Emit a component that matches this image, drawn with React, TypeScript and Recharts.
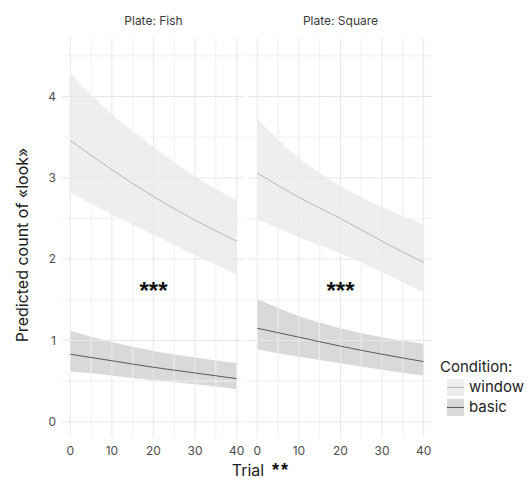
import React from 'react';
import { ComposedChart, Area, Line, XAxis, YAxis, ReferenceLine, ReferenceDot } from 'recharts';

// Trial values where the fitted curves were read
const trials = [0, 10, 20, 30, 40];

// Plate: Fish
const fishWindowFit = [3.46, 3.1, 2.77, 2.48, 2.22];
const fishWindowLow = [2.82, 2.55, 2.3, 2.05, 1.81];
const fishWindowHigh = [4.28, 3.78, 3.38, 3.02, 2.72];
const fishBasicFit = [0.83, 0.75, 0.67, 0.6, 0.53];
const fishBasicLow = [0.62, 0.57, 0.51, 0.46, 0.4];
const fishBasicHigh = [1.12, 0.98, 0.87, 0.79, 0.72];

// Plate: Square
const squareWindowFit = [3.06, 2.76, 2.5, 2.22, 1.96];
const squareWindowLow = [2.49, 2.27, 2.07, 1.84, 1.59];
const squareWindowHigh = [3.72, 3.24, 2.9, 2.64, 2.43];
const squareBasicFit = [1.15, 1.04, 0.93, 0.83, 0.74];
const squareBasicLow = [0.89, 0.8, 0.72, 0.64, 0.57];
const squareBasicHigh = [1.51, 1.3, 1.15, 1.04, 0.96];

const xTicks = [0, 10, 20, 30, 40];
const xMinor = [5, 15, 25, 35];
const yTicks = [0, 1, 2, 3, 4];
const yMinor = [0.5, 1.5, 2.5, 3.5, 4.5];
const starY = 1.61;

const FONT = 'Inter, "Noto Sans", sans-serif';
const STAR_FONT = '"Liberation Sans", sans-serif';

const buildRows = (wFit: number[], wLo: number[], wHi: number[], bFit: number[], bLo: number[], bHi: number[]) =>
  trials.map((t, i) => ({
    trial: t,
    window: wFit[i],
    windowBand: [wLo[i], wHi[i]],
    basic: bFit[i],
    basicBand: [bLo[i], bHi[i]],
  }));

const fishRows = buildRows(fishWindowFit, fishWindowLow, fishWindowHigh, fishBasicFit, fishBasicLow, fishBasicHigh);
const squareRows = buildRows(squareWindowFit, squareWindowLow, squareWindowHigh, squareBasicFit, squareBasicLow, squareBasicHigh);

const Panel = ({ rows, title, showY, left, width, margin }: any) => (
  <div style={{ position: 'absolute', left, top: 0 }}>
    <ComposedChart width={width} height={480} data={rows} margin={margin}>
      {xMinor.map((v) => (
        <ReferenceLine key={'xm' + v} x={v} stroke="#efefef" strokeWidth={1} />
      ))}
      {yMinor.map((v) => (
        <ReferenceLine key={'ym' + v} y={v} stroke="#f1f1f1" strokeWidth={1} />
      ))}
      {xTicks.map((v) => (
        <ReferenceLine key={'x' + v} x={v} stroke="#e8e8e8" strokeWidth={1} />
      ))}
      {yTicks.map((v) => (
        <ReferenceLine key={'y' + v} y={v} stroke="#e8e8e8" strokeWidth={1} />
      ))}
      <XAxis
        dataKey="trial"
        type="number"
        domain={[-2, 42]}
        ticks={xTicks}
        allowDataOverflow
        axisLine={false}
        tickLine={false}
        tickSize={0}
        tickMargin={8}
        height={30}
        tick={{ fontSize: 12, fill: '#4d4d4d', fontFamily: FONT }}
      />
      <YAxis
        type="number"
        domain={[-0.2, 4.72]}
        ticks={yTicks}
        allowDataOverflow
        hide={!showY}
        axisLine={false}
        tickLine={false}
        tickSize={0}
        tickMargin={6}
        width={20}
        tick={{ fontSize: 12, fill: '#4d4d4d', fontFamily: FONT }}
      />
      <Area type="monotone" dataKey="windowBand" stroke="none" fill="#d2d2d2" fillOpacity={0.38} isAnimationActive={false} />
      <Area type="monotone" dataKey="basicBand" stroke="none" fill="#b4b4b4" fillOpacity={0.5} isAnimationActive={false} />
      <Line type="monotone" dataKey="window" stroke="#b8b8b8" strokeWidth={1} dot={false} isAnimationActive={false} />
      <Line type="monotone" dataKey="basic" stroke="#5a5a5a" strokeWidth={1} dot={false} isAnimationActive={false} />
      <ReferenceDot
        x={20}
        y={starY}
        r={0}
        stroke="none"
        label={{ value: '***', position: 'center', fontSize: 24, fontWeight: 700, fill: '#111', fontFamily: STAR_FONT }}
      />
    </ComposedChart>
    <div
      style={{
        position: 'absolute',
        top: 13,
        left: margin.left + (showY ? 20 : 0),
        width: width - margin.left - margin.right - (showY ? 20 : 0),
        textAlign: 'center',
        fontSize: 12,
        color: '#3a3a3a',
        fontFamily: FONT,
      }}
    >
      {title}
    </div>
  </div>
);

export default function App() {
  return (
    <div style={{ position: 'absolute', left: 0, top: 0, width: 531, height: 480, background: '#fff', fontFamily: FONT }}>
      <Panel rows={fishRows} title="Plate: Fish" showY left={0} width={250} margin={{ top: 38, right: 5, bottom: 12, left: 42 }} />
      <Panel rows={squareRows} title="Plate: Square" showY={false} left={240} width={200} margin={{ top: 38, right: 8, bottom: 12, left: 9 }} />
      <svg width={531} height={480} style={{ position: 'absolute', left: 0, top: 0, overflow: 'visible', pointerEvents: 'none' }}>
        <text x={28} y={245} transform="rotate(-90 28 245)" textAnchor="middle" fontSize={16} fill="#222" fontFamily={FONT}>
          Predicted count of «look»
        </text>
        <text x={248} y={476} textAnchor="middle" fontSize={16} fill="#222" fontFamily={FONT}>
          Trial
        </text>
        <text x={272} y={475.5} fontSize={18} fontWeight={700} letterSpacing={2} fill="#111" fontFamily={STAR_FONT}>
          **
        </text>
        <text x={440} y={372} fontSize={15} fill="#222" fontFamily={FONT}>
          Condition:
        </text>
        <rect x={447} y={379} width={17} height={17} fill="#d2d2d2" fillOpacity={0.38} />
        <line x1={447} x2={464} y1={387.5} y2={387.5} stroke="#b8b8b8" strokeWidth={1} />
        <text x={469} y={392} fontSize={15} fill="#222" fontFamily={FONT}>
          window
        </text>
        <rect x={447} y={399} width={17} height={17} fill="#b4b4b4" fillOpacity={0.5} />
        <line x1={447} x2={464} y1={407.5} y2={407.5} stroke="#5a5a5a" strokeWidth={1} />
        <text x={469} y={412} fontSize={15} fill="#222" fontFamily={FONT}>
          basic
        </text>
      </svg>
    </div>
  );
}
